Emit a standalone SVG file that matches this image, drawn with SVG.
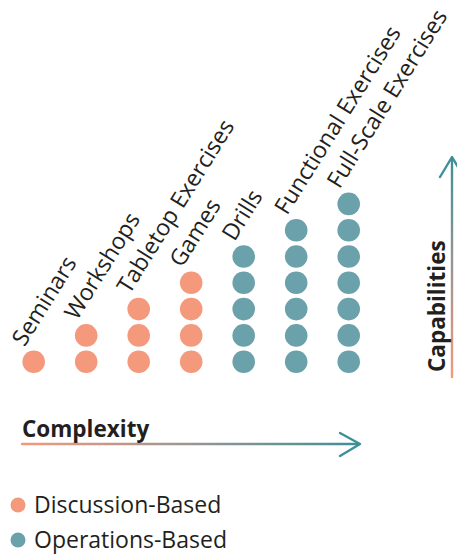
<svg xmlns="http://www.w3.org/2000/svg" width="457" height="555" viewBox="0 0 457 555">
  <defs>
    <linearGradient id="gradX" gradientUnits="userSpaceOnUse" x1="22" y1="0" x2="360" y2="0">
      <stop offset="0" stop-color="#F4997C"/>
      <stop offset="0.5" stop-color="#9A9592"/>
      <stop offset="1" stop-color="#3E8F97"/>
    </linearGradient>
    <linearGradient id="gradY" gradientUnits="userSpaceOnUse" x1="0" y1="377" x2="0" y2="157">
      <stop offset="0" stop-color="#F4997C"/>
      <stop offset="0.5" stop-color="#9A9592"/>
      <stop offset="1" stop-color="#3E8F97"/>
    </linearGradient>
    <style>
      .disc { fill: #F4997C; }
      .ops { fill: #6AA1AA; }
      .lbl { font-family: "Open Sans", "Noto Sans", sans-serif; font-size: 23px; fill: #231F20; }
      .axis { font-family: "Open Sans", "Noto Sans", sans-serif; font-size: 22.5px; font-weight: bold; fill: #231F20; }
      .leg { font-family: "Open Sans", "Noto Sans", sans-serif; font-size: 23px; fill: #231F20; }
    </style>
  </defs>

  <!-- exercise columns -->
  <g id="seminars">
    <circle class="disc" cx="33.7" cy="361.7" r="11.3"/>
    <text class="lbl" transform="translate(24.5,347.5) rotate(-58)">Seminars</text>
  </g>
  <g id="workshops">
    <circle class="disc" cx="86.2" cy="361.7" r="11.3"/>
    <circle class="disc" cx="86.2" cy="335.4" r="11.3"/>
    <text class="lbl" transform="translate(77,321.2) rotate(-58)">Workshops</text>
  </g>
  <g id="tabletop">
    <circle class="disc" cx="138.7" cy="361.7" r="11.3"/>
    <circle class="disc" cx="138.7" cy="335.4" r="11.3"/>
    <circle class="disc" cx="138.7" cy="309.1" r="11.3"/>
    <text class="lbl" transform="translate(129.5,294.9) rotate(-58)">Tabletop Exercises</text>
  </g>
  <g id="games">
    <circle class="disc" cx="191.2" cy="361.7" r="11.3"/>
    <circle class="disc" cx="191.2" cy="335.4" r="11.3"/>
    <circle class="disc" cx="191.2" cy="309.1" r="11.3"/>
    <circle class="disc" cx="191.2" cy="282.8" r="11.3"/>
    <text class="lbl" transform="translate(182,268.6) rotate(-58)">Games</text>
  </g>
  <g id="drills">
    <circle class="ops" cx="243.7" cy="361.7" r="11.3"/>
    <circle class="ops" cx="243.7" cy="335.4" r="11.3"/>
    <circle class="ops" cx="243.7" cy="309.1" r="11.3"/>
    <circle class="ops" cx="243.7" cy="282.8" r="11.3"/>
    <circle class="ops" cx="243.7" cy="256.5" r="11.3"/>
    <text class="lbl" transform="translate(234.5,242.3) rotate(-58)">Drills</text>
  </g>
  <g id="functional">
    <circle class="ops" cx="296.2" cy="361.7" r="11.3"/>
    <circle class="ops" cx="296.2" cy="335.4" r="11.3"/>
    <circle class="ops" cx="296.2" cy="309.1" r="11.3"/>
    <circle class="ops" cx="296.2" cy="282.8" r="11.3"/>
    <circle class="ops" cx="296.2" cy="256.5" r="11.3"/>
    <circle class="ops" cx="296.2" cy="230.2" r="11.3"/>
    <text class="lbl" transform="translate(287,216) rotate(-58)">Functional Exercises</text>
  </g>
  <g id="fullscale">
    <circle class="ops" cx="348.7" cy="361.7" r="11.3"/>
    <circle class="ops" cx="348.7" cy="335.4" r="11.3"/>
    <circle class="ops" cx="348.7" cy="309.1" r="11.3"/>
    <circle class="ops" cx="348.7" cy="282.8" r="11.3"/>
    <circle class="ops" cx="348.7" cy="256.5" r="11.3"/>
    <circle class="ops" cx="348.7" cy="230.2" r="11.3"/>
    <circle class="ops" cx="348.7" cy="203.9" r="11.3"/>
    <text class="lbl" transform="translate(339.5,189.7) rotate(-58)">Full-Scale Exercises</text>
  </g>

  <!-- axes -->
  <g id="connectors" fill="none" stroke-width="2.4" stroke-linecap="round" stroke-linejoin="round">
    <path d="M22 444 H359" stroke="url(#gradX)"/>
    <path d="M340 433 L360 444 L340 456" stroke="#3E8F97"/>
    <path d="M452 377 V158" stroke="url(#gradY)"/>
    <path d="M440 177 L452 157 L464 177" stroke="#3E8F97"/>
  </g>
  <g id="axis-labels">
    <text class="axis" x="22" y="437">Complexity</text>
    <text class="axis" transform="translate(445,372) rotate(-90)">Capabilities</text>
  </g>

  <!-- legend -->
  <g id="legend">
    <circle class="disc" cx="18" cy="505" r="7.5"/>
    <text class="leg" x="34" y="513">Discussion-Based</text>
    <circle class="ops" cx="18" cy="540" r="7.5"/>
    <text class="leg" x="34" y="547.5">Operations-Based</text>
  </g>
</svg>
